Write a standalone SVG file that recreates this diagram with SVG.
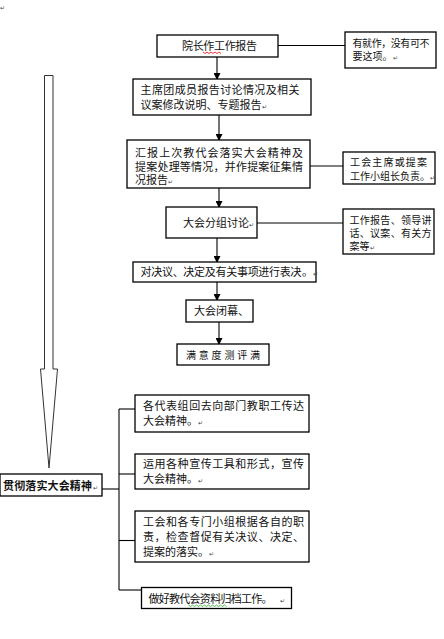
<svg xmlns="http://www.w3.org/2000/svg" width="444" height="639" viewBox="0 0 444 639">
<defs>
<marker id="ah" markerWidth="7" markerHeight="7" refX="6" refY="3.5" orient="auto" markerUnits="userSpaceOnUse">
<path d="M0,0 L7,3.5 L0,7 z" fill="#000"/>
</marker>
<style>
.box{fill:#fff;stroke:#000;stroke-width:1.3}
.t{font-family:"Liberation Sans","Noto Sans CJK SC",sans-serif;font-size:11px;fill:#111}
.s{font-size:10px}
.pm{font-size:6px;fill:#444}
.ln{stroke:#000;stroke-width:1.1;fill:none}
.ar{stroke:#000;stroke-width:1.1;fill:none;marker-end:url(#ah)}
</style>
</defs>
<rect width="444" height="639" fill="#fff"/>
<text class="t pm" x="0" y="10">↵</text>

<g id="connectors">
<polygon points="44.5,75.5 53,75.5 53,369 57.5,369 49,468 40.5,369 44.5,369" fill="#fff" stroke="#333" stroke-width="1"/>
<line class="ar" x1="217" y1="57" x2="217" y2="79"/>
<line class="ar" x1="219" y1="115" x2="219" y2="140"/>
<line class="ar" x1="219" y1="188" x2="219" y2="207"/>
<line class="ar" x1="217" y1="238" x2="217" y2="262"/>
<line class="ar" x1="217" y1="282" x2="217" y2="300"/>
<line class="ar" x1="219" y1="322" x2="219" y2="344" stroke="#555" stroke-width="1.6"/>
<line class="ln" x1="278" y1="45.5" x2="345" y2="45.5"/>
<line class="ln" x1="310" y1="166" x2="343" y2="166"/>
<line class="ln" x1="257" y1="223" x2="343" y2="223"/>
<line class="ln" x1="102" y1="489" x2="119" y2="489"/>
<line class="ln" x1="119" y1="409" x2="119" y2="590"/>
<line class="ln" x1="119" y1="409" x2="135" y2="409"/>
<line class="ln" x1="119" y1="474" x2="135" y2="474"/>
<line class="ln" x1="119" y1="540.5" x2="135" y2="540.5"/>
<line class="ln" x1="119" y1="590" x2="141.5" y2="590"/>
</g>

<g id="n1">
<rect class="box" x="157" y="35" width="121" height="22"/>
<text class="t" x="182" y="49.5" textLength="75" lengthAdjust="spacing">院长作工作报告</text>
<path d="M203,52 l2,1.5 l2,-1.5 l2,1.5 l2,-1.5 l2,1.5 l2,-1.5 l2,1.5 l2,-1.5 l2,1.5" fill="none" stroke="#e00" stroke-width="0.8"/>
</g>
<g id="s1">
<rect class="box" x="345" y="32" width="91" height="36"/>
<text class="t s" x="352.5" y="47" textLength="77" lengthAdjust="spacing">有就作，没有可不</text>
<text class="t s" x="352.5" y="60">要这项。<tspan class="pm">↵</tspan></text>
</g>
<g id="n2">
<rect class="box" x="133" y="79" width="178" height="36"/>
<text class="t" x="140.5" y="94" textLength="159" lengthAdjust="spacing">主席团成员报告讨论情况及相关</text>
<text class="t" x="140.5" y="109">议案修改说明、专题报告<tspan class="pm">↵</tspan></text>
</g>
<g id="n3">
<rect class="box" x="127" y="140" width="183" height="48"/>
<text class="t" x="135" y="157" textLength="168" lengthAdjust="spacing">汇报上次教代会落实大会精神及</text>
<text class="t" x="135" y="170.5" textLength="168" lengthAdjust="spacing">提案处理等情况，并作提案征集情</text>
<text class="t" x="135" y="184">况报告<tspan class="pm">↵</tspan></text>
</g>
<g id="s2">
<rect class="box" x="343" y="152" width="92" height="32"/>
<text class="t s" x="350" y="166" textLength="77" lengthAdjust="spacing">工会主席或提案</text>
<text class="t s" x="350" y="179.5">工作小组长负责。<tspan class="pm">↵</tspan></text>
</g>
<g id="n4">
<rect class="box" x="166" y="207" width="91" height="31"/>
<text class="t" x="183" y="226.5">大会分组讨论<tspan class="pm">↵</tspan></text>
</g>
<g id="s3">
<rect class="box" x="343" y="209" width="91" height="45"/>
<text class="t s" x="349.5" y="224" textLength="82" lengthAdjust="spacing">工作报告、领导讲</text>
<text class="t s" x="349.5" y="237" textLength="82" lengthAdjust="spacing">话、议案、有关方</text>
<text class="t s" x="349.5" y="250">案等<tspan class="pm">↵</tspan></text>
</g>
<g id="n5">
<rect class="box" x="133" y="262" width="183" height="20"/>
<text class="t" x="140.5" y="275.5" textLength="161" lengthAdjust="spacing">对决议、决定及有关事项进行表决</text>
<text class="t" x="302" y="275.5">。<tspan class="pm">↵</tspan></text>
</g>
<g id="n6">
<rect class="box" x="186" y="300" width="67" height="22"/>
<text class="t" x="194" y="315">大会闭幕、</text>
</g>
<g id="n7">
<rect class="box" x="177" y="344" width="92" height="21"/>
<text class="t s" x="186" y="358.5" textLength="74" lengthAdjust="spacing">满意度测评满</text>
</g>
<g id="n8">
<rect class="box" x="0" y="474" width="102" height="22"/>
<text class="t" x="3" y="489.5" font-weight="bold" textLength="89" lengthAdjust="spacing">贯彻落实大会精神</text>
<text class="t pm" x="93" y="489.5">↵</text>
</g>
<g id="nA">
<rect class="box" x="135" y="395" width="174" height="37"/>
<text class="t" x="143" y="409.5" textLength="161" lengthAdjust="spacing">各代表组回去向部门教职工传达</text>
<text class="t" x="143" y="425">大会精神。<tspan class="pm">↵</tspan></text>
</g>
<g id="nB">
<rect class="box" x="135" y="454" width="174" height="35"/>
<text class="t" x="143" y="467.5" textLength="161" lengthAdjust="spacing">运用各种宣传工具和形式，宣传</text>
<text class="t" x="143" y="483">大会精神。<tspan class="pm">↵</tspan></text>
</g>
<g id="nC">
<rect class="box" x="135" y="511" width="174" height="51"/>
<text class="t" x="143" y="525.5" textLength="161" lengthAdjust="spacing">工会和各专门小组根据各自的职</text>
<text class="t" x="143" y="540.5" textLength="161" lengthAdjust="spacing">责，检查督促有关决议、决定、</text>
<text class="t" x="143" y="555.5">提案的落实。<tspan class="pm">↵</tspan></text>
</g>
<g id="nD">
<rect class="box" x="141.5" y="587.5" width="150" height="21"/>
<text class="t" x="148.5" y="602.5" textLength="124" lengthAdjust="spacing">做好教代会资料归档工作。</text>
<text class="t pm" x="280" y="602.5">↵</text>
<path d="M188.5,605 l2,1.5 l2,-1.5 l2,1.5 l2,-1.5 l2,1.5 l2,-1.5 l2,1.5 l2,-1.5 l2,1.5 l2,-1.5 l2,1.5 l2,-1.5 l2,1.5 l2,-1.5 l2,1.5 l2,-1.5 l2,1.5 l2,-1.5 l2,1.5" fill="none" stroke="#2a2" stroke-width="0.8"/>
</g>
</svg>
